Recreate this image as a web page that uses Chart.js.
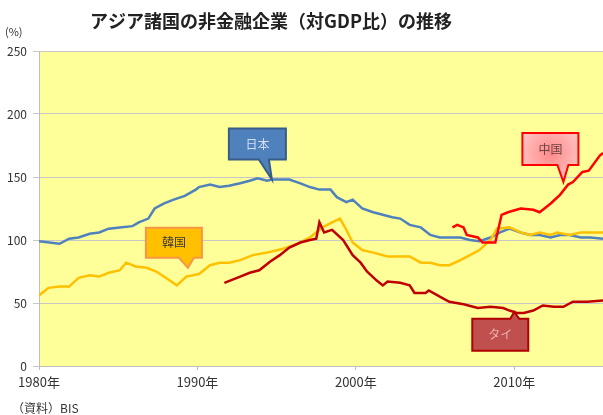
<!DOCTYPE html>
<html lang="ja">
<head>
<meta charset="utf-8">
<title>アジア諸国の非金融企業（対GDP比）の推移</title>
<script src="https://cdn.jsdelivr.net/npm/chart.js@4/dist/chart.umd.min.js"></script>
<style>
  html, body { margin: 0; padding: 0; background: #fff; }
  #wrap { width: 603px; height: 415px; }
</style>
</head>
<body>
<div id="wrap"><canvas id="chart" width="603" height="415"></canvas></div>
<script>
// 年 (小数は年内の位置)
const yearTicks = [1980, 1990, 2000, 2010];
const yTicks = [0, 50, 100, 150, 200, 250];

// 日本
const japanYears = [1980.0, 1981.3, 1981.9, 1982.5, 1983.2, 1983.8, 1984.4, 1985.1, 1985.9, 1986.3,
  1986.9, 1987.3, 1987.9, 1988.5, 1989.2, 1989.9, 1990.1, 1990.8, 1991.4, 1992.0,
  1992.7, 1993.3, 1993.8, 1994.4, 1994.7, 1995.4, 1995.8, 1996.5, 1997.1, 1997.7,
  1998.4, 1998.8, 1999.4, 1999.8, 2000.4, 2001.1, 2001.7, 2002.3, 2002.8, 2003.4,
  2004.1, 2004.7, 2005.3, 2005.9, 2006.6, 2007.2, 2007.8, 2008.5, 2009.1, 2009.7,
  2010.4, 2011.0, 2011.6, 2012.3, 2012.9, 2013.5, 2014.2, 2014.8, 2015.6];
const japanValues = [99, 97, 101, 102, 105, 106, 109, 110, 111, 114,
  117, 125, 129, 132, 135, 140, 142, 144, 142, 143,
  145, 147, 149, 147, 148, 148, 148, 145, 142, 140,
  140, 134, 130, 132, 125, 122, 120, 118, 117, 112,
  110, 104, 102, 102, 102, 100, 99, 102, 106, 109,
  106, 104, 104, 102, 104, 104, 102, 102, 101];

// 韓国
const koreaYears = [1980.0, 1980.6, 1981.3, 1981.9, 1982.5, 1983.2, 1983.8, 1984.4, 1985.1, 1985.5,
  1986.1, 1986.8, 1987.4, 1988.0, 1988.7, 1989.3, 1990.1, 1990.8, 1991.4, 1992.0,
  1992.7, 1993.5, 1994.4, 1995.4, 1996.3, 1997.1, 1997.9, 1998.5, 1999.0, 1999.4,
  1999.8, 2000.4, 2001.1, 2002.0, 2002.8, 2003.4, 2004.1, 2004.7, 2005.3, 2005.9,
  2006.6, 2007.2, 2007.8, 2008.5, 2008.9, 2009.7, 2010.4, 2011.0, 2011.6, 2012.3,
  2012.7, 2013.5, 2014.2, 2014.8, 2015.6];
const koreaValues = [56, 62, 63, 63, 70, 72, 71, 74, 76, 82,
  79, 78, 75, 70, 64, 71, 73, 80, 82, 82,
  84, 88, 90, 93, 97, 102, 110, 114, 117, 108,
  98, 92, 90, 87, 87, 87, 82, 82, 80, 80,
  84, 88, 92, 100, 109, 110, 106, 104, 106, 104,
  106, 104, 106, 106, 106];

// 中国
const chinaYears = [2006.1, 2006.4, 2006.8, 2007.0, 2007.7, 2008.0, 2008.8, 2009.2, 2009.6, 2010.4,
  2011.2, 2011.6, 2012.3, 2012.9, 2013.4, 2013.7, 2014.3, 2014.7, 2015.4, 2015.6];
const chinaValues = [110, 112, 110, 104, 102, 98, 98, 120, 122, 125,
  124, 122, 129, 136, 144, 146, 154, 155, 167, 169];

// タイ
const thaiYears = [1991.7, 1992.7, 1993.3, 1993.9, 1994.6, 1995.2, 1995.8, 1996.5, 1997.1, 1997.5,
  1997.7, 1998.0, 1998.5, 1999.2, 1999.8, 2000.3, 2000.7, 2001.3, 2001.7, 2002.0,
  2002.8, 2003.4, 2003.7, 2004.4, 2004.6, 2005.3, 2005.9, 2006.8, 2007.7, 2008.5,
  2009.3, 2009.7, 2010.2, 2010.6, 2011.2, 2011.8, 2012.5, 2013.1, 2013.7, 2014.6, 2015.6];
const thaiValues = [66, 71, 74, 76, 83, 88, 94, 98, 100, 101,
  114, 106, 108, 100, 88, 82, 75, 68, 64, 67,
  66, 64, 58, 58, 60, 55, 51, 49, 46, 47,
  46, 44, 42, 42, 44, 48, 47, 47, 51, 51, 52];

function toPoints(xs, ys) {
  return xs.map((x, i) => ({ x: x, y: ys[i] }));
}

// 吹き出し (year/value が指す先)
const callouts = [
  { text: '日本', year: 1994.7, value: 148, box: [-43, -51, 57, 31], base: [-13, -3], down: true,
    fill: '#4F81BD', stroke: '#385D8A', color: '#D4DEEE' },
  { text: '韓国', year: 1989.4, value: 78, box: [-42, -40, 56, 30], base: [-9, 6], down: true,
    fill: '#FFC000', stroke: '#F79646', color: '#3A3A3A' },
  { text: '中国', year: 2013.1, value: 146, box: [-41, -49, 56, 32], base: [-6, 5], down: true,
    fill: 'pink', stroke: '#FF0000', color: '#6B4040' },
  { text: 'タイ', year: 2010.0, value: 43, box: [-42, 7, 56, 32], base: [-4, 5], down: false,
    fill: '#C0504D', stroke: '#B00000', color: '#EBB0B0' },
];

const jpFont = '"Noto Sans CJK JP", "Noto Sans", sans-serif';

const plotBg = {
  id: 'plotBg',
  beforeDraw(chart) {
    const { ctx, chartArea: a } = chart;
    ctx.save();
    ctx.fillStyle = '#FFFF99';
    ctx.fillRect(a.left, a.top, a.right - a.left, a.bottom - a.top);
    ctx.restore();
  },
};

const extraText = {
  id: 'extraText',
  afterDraw(chart) {
    const ctx = chart.ctx;
    ctx.save();
    ctx.fillStyle = '#222';
    ctx.textBaseline = 'middle';
    ctx.textAlign = 'center';
    ctx.font = 'bold 18px ' + jpFont;
    ctx.fillText('アジア諸国の非金融企業（対GDP比）の推移', 271, 21);
    ctx.textAlign = 'left';
    ctx.font = '11px ' + jpFont;
    ctx.fillStyle = '#333';
    ctx.fillText('(%)', 5, 32);
    ctx.font = '12px ' + jpFont;
    ctx.fillText('（資料）BIS', 12, 408);
    ctx.restore();
  },
};

const calloutPlugin = {
  id: 'callouts',
  afterDatasetsDraw(chart) {
    const ctx = chart.ctx;
    const xs = chart.scales.x;
    const ys = chart.scales.y;
    callouts.forEach(c => {
      const tx = xs.getPixelForValue(c.year);
      const ty = ys.getPixelForValue(c.value);
      const l = tx + c.box[0];
      const t = ty + c.box[1];
      const r = l + c.box[2];
      const b = t + c.box[3];
      const bl = tx + c.base[0];
      const br = tx + c.base[1];
      ctx.save();
      ctx.beginPath();
      if (c.down) {
        ctx.moveTo(l, t);
        ctx.lineTo(r, t);
        ctx.lineTo(r, b);
        ctx.lineTo(br, b);
        ctx.lineTo(tx, ty);
        ctx.lineTo(bl, b);
        ctx.lineTo(l, b);
      } else {
        ctx.moveTo(l, t);
        ctx.lineTo(bl, t);
        ctx.lineTo(tx, ty);
        ctx.lineTo(br, t);
        ctx.lineTo(r, t);
        ctx.lineTo(r, b);
        ctx.lineTo(l, b);
      }
      ctx.closePath();
      if (c.fill === 'pink') {
        const cx = (l + r) / 2;
        const cy = (t + b) / 2 + 4;
        const g = ctx.createRadialGradient(cx, cy, 0, cx, cy, 34);
        g.addColorStop(0, '#FF8A8A');
        g.addColorStop(1, '#FFC6C6');
        ctx.fillStyle = g;
      } else {
        ctx.fillStyle = c.fill;
      }
      ctx.fill();
      ctx.lineWidth = 2;
      ctx.lineJoin = 'miter';
      ctx.strokeStyle = c.stroke;
      ctx.stroke();
      ctx.fillStyle = c.color;
      ctx.font = '12px ' + jpFont;
      ctx.textAlign = 'center';
      ctx.textBaseline = 'middle';
      ctx.fillText(c.text, (l + r) / 2, (t + b) / 2);
      ctx.restore();
    });
  },
};

function lineSet(label, xs, ys, color) {
  return {
    label: label,
    data: toPoints(xs, ys),
    borderColor: color,
    backgroundColor: color,
    borderWidth: 2.5,
    pointRadius: 0,
    tension: 0,
    fill: false,
  };
}

new Chart(document.getElementById('chart'), {
  type: 'line',
  data: {
    datasets: [
      lineSet('中国', chinaYears, chinaValues, '#FF0000'),
      lineSet('タイ', thaiYears, thaiValues, '#C00000'),
      lineSet('韓国', koreaYears, koreaValues, '#FFC000'),
      lineSet('日本', japanYears, japanValues, '#4F81BD'),
    ],
  },
  options: {
    responsive: false,
    animation: false,
    devicePixelRatio: 1,
    layout: { padding: { top: 51, right: 0, bottom: 0, left: 0 } },
    plugins: {
      legend: { display: false },
      tooltip: { enabled: false },
      title: { display: false },
    },
    scales: {
      x: {
        type: 'linear',
        min: 1980,
        max: 2015.6,
        afterBuildTicks(scale) {
          scale.ticks = yearTicks.map(v => ({ value: v }));
        },
        afterFit(scale) {
          scale.height = 49;
        },
        border: { color: '#BFBFBF', width: 1 },
        grid: { display: true, drawOnChartArea: false, tickLength: 4, color: '#BFBFBF' },
        ticks: {
          autoSkip: false,
          maxRotation: 0,
          padding: 4,
          color: '#333',
          font: { family: jpFont, size: 13 },
          callback: v => v + '年',
        },
      },
      y: {
        min: 0,
        max: 250,
        afterBuildTicks(scale) {
          scale.ticks = yTicks.map(v => ({ value: v }));
        },
        afterFit(scale) {
          scale.width = 39;
        },
        border: { color: '#BFBFBF', width: 1 },
        grid: { color: '#C8C8C8', tickLength: 6, lineWidth: 1 },
        ticks: {
          padding: 6,
          color: '#333',
          font: { family: jpFont, size: 12 },
        },
      },
    },
  },
  plugins: [plotBg, calloutPlugin, extraText],
});
</script>
</body>
</html>
